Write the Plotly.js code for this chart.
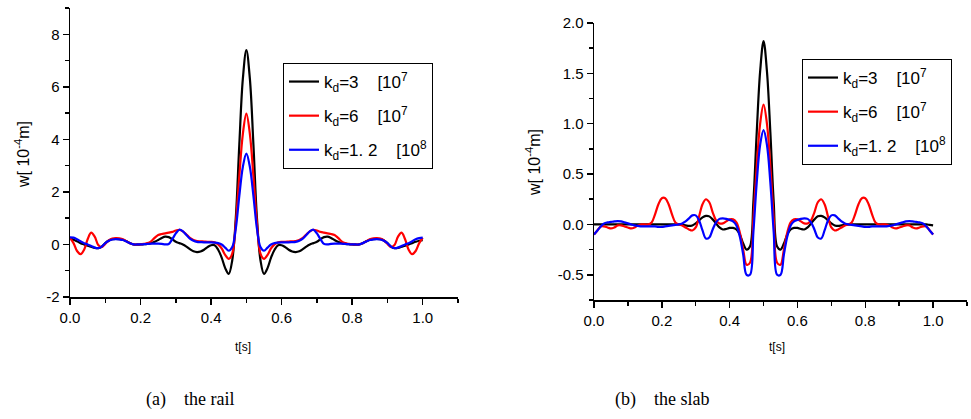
<!DOCTYPE html>
<html>
<head>
<meta charset="utf-8">
<script src="https://cdn.plot.ly/plotly-3.0.1.min.js"></script>
<style>html,body{margin:0;padding:0;background:#fff;}#chart{width:971px;height:419px;}</style>
</head>
<body>
<div id="chart"></div>
<script>
// time grid [s]
const t = [0.00,0.01,0.02,0.03,0.04,0.05,0.06,0.07,0.08,0.09,
  0.10,0.11,0.12,0.13,0.14,0.15,0.16,0.17,0.18,0.19,
  0.20,0.21,0.22,0.23,0.24,0.25,0.26,0.27,0.28,0.29,
  0.30,0.31,0.32,0.33,0.34,0.35,0.36,0.37,0.38,0.39,
  0.40,0.41,0.42,0.43,0.44,0.45,0.46,0.47,0.48,0.49,
  0.50,0.51,0.52,0.53,0.54,0.55,0.56,0.57,0.58,0.59,
  0.60,0.61,0.62,0.63,0.64,0.65,0.66,0.67,0.68,0.69,
  0.70,0.71,0.72,0.73,0.74,0.75,0.76,0.77,0.78,0.79,
  0.80,0.81,0.82,0.83,0.84,0.85,0.86,0.87,0.88,0.89,
  0.90,0.91,0.92,0.93,0.94,0.95,0.96,0.97,0.98,0.99,1.00];

// (a) the rail, w [1e-4 m]
const railK3e7 = [0.22,0.18,0.12,0.05,0.0,-0.05,-0.09,-0.13,-0.14,-0.08,
  0.05,0.15,0.2,0.21,0.2,0.18,0.12,0.05,0.0,-0.01,
  0.0,0.01,0.02,0.05,0.1,0.17,0.25,0.3,0.28,0.2,
  0.1,0.05,0.0,-0.08,-0.18,-0.26,-0.29,-0.27,-0.2,-0.1,
  -0.03,-0.03,-0.2,-0.5,-0.9,-1.12,-0.6,1.0,3.8,6.3,
  7.4,
  6.3,3.8,1.0,-0.6,-1.12,-0.9,-0.5,-0.2,-0.03,
  -0.03,-0.1,-0.2,-0.27,-0.29,-0.26,-0.18,-0.08,0.0,0.05,
  0.1,0.2,0.28,0.3,0.25,0.17,0.1,0.05,0.02,0.01,
  0.0,-0.01,0.0,0.05,0.12,0.18,0.2,0.21,0.2,0.15,
  0.05,-0.08,-0.14,-0.13,-0.09,-0.05,0.0,0.05,0.1,0.14,
  0.16];
const railK6e7 = [0.25,0.05,-0.25,-0.37,-0.2,0.2,0.45,0.3,-0.02,-0.1,
  0.02,0.15,0.22,0.24,0.23,0.2,0.12,0.05,0.0,0.0,
  0.0,0.02,0.05,0.12,0.25,0.36,0.4,0.42,0.45,0.48,
  0.53,0.56,0.5,0.38,0.25,0.17,0.13,0.12,0.11,0.1,
  0.1,0.08,0.0,-0.15,-0.4,-0.55,-0.35,0.8,2.6,4.2,
  4.98,
  4.2,2.6,0.8,-0.35,-0.55,-0.4,-0.15,0.0,0.08,
  0.1,0.1,0.11,0.12,0.13,0.17,0.25,0.38,0.5,0.56,
  0.53,0.48,0.45,0.42,0.4,0.36,0.25,0.12,0.05,0.02,
  0.0,0.0,0.0,0.05,0.12,0.2,0.23,0.24,0.22,0.15,
  0.02,-0.1,-0.02,0.3,0.45,0.2,-0.2,-0.37,-0.25,0.05,
  0.25];
const railK12e8 = [0.27,0.26,0.2,0.12,0.05,0.0,-0.06,-0.12,-0.14,-0.08,
  0.05,0.14,0.19,0.2,0.19,0.17,0.11,0.05,0.0,0.0,
  0.0,0.01,0.02,0.03,0.03,0.03,0.02,0.0,0.02,0.2,
  0.42,0.56,0.5,0.36,0.22,0.14,0.1,0.09,0.08,0.08,
  0.08,0.07,0.05,0.0,-0.12,-0.24,-0.1,0.6,1.85,2.95,
  3.46,
  2.95,1.85,0.6,-0.1,-0.24,-0.12,0.0,0.05,0.07,
  0.08,0.08,0.08,0.09,0.1,0.14,0.22,0.36,0.5,0.56,
  0.42,0.2,0.02,0.0,0.02,0.03,0.03,0.03,0.02,0.01,
  0.0,0.0,0.0,0.05,0.11,0.17,0.19,0.2,0.19,0.14,
  0.05,-0.08,-0.14,-0.12,-0.06,0.0,0.05,0.12,0.2,0.24,
  0.26];

// (b) the slab, w [1e-4 m]
const slabK3e7 = [0.0,0.0,0.0,0.0,0.0,0.0,0.0,0.0,0.0,0.0,
  0.0,0.0,0.0,0.0,0.0,0.0,0.0,0.0,0.0,0.0,
  0.0,0.0,0.0,0.0,0.0,0.0,-0.005,-0.01,-0.015,-0.01,
  0.01,0.04,0.07,0.085,0.08,0.05,0.01,-0.03,-0.05,-0.045,
  -0.035,-0.035,-0.05,-0.1,-0.19,-0.25,-0.22,0.22,0.92,1.52,
  1.82,
  1.52,0.92,0.22,-0.22,-0.25,-0.19,-0.1,-0.05,-0.035,
  -0.035,-0.045,-0.05,-0.03,0.01,0.05,0.08,0.085,0.07,0.04,
  0.01,-0.01,-0.015,-0.01,-0.005,0.0,0.0,0.0,0.0,0.0,
  0.0,0.0,0.0,0.0,0.0,0.0,0.0,0.0,0.0,0.0,
  0.0,0.0,0.0,0.0,0.0,0.0,0.0,0.0,0.0,-0.005,
  -0.01];
const slabK6e7 = [-0.1,-0.06,-0.02,-0.02,-0.03,-0.04,-0.03,-0.01,-0.01,-0.02,
  -0.03,-0.04,-0.03,-0.01,0.0,0.0,0.0,0.02,0.1,0.2,
  0.26,0.26,0.2,0.1,0.02,0.0,-0.01,-0.03,-0.05,-0.06,
  -0.03,0.08,0.2,0.25,0.22,0.12,0.04,0.01,0.01,0.03,
  0.05,0.05,0.02,-0.08,-0.25,-0.4,-0.38,0.05,0.58,1.0,
  1.19,
  1.0,0.58,0.05,-0.38,-0.4,-0.25,-0.08,0.02,0.05,
  0.05,0.03,0.01,0.01,0.04,0.12,0.22,0.25,0.2,0.08,
  -0.03,-0.06,-0.05,-0.03,-0.01,0.0,0.02,0.1,0.2,0.26,
  0.26,0.2,0.1,0.02,0.0,0.0,0.0,-0.01,-0.03,-0.04,
  -0.03,-0.02,-0.01,-0.01,-0.03,-0.04,-0.03,-0.02,-0.02,-0.06,
  -0.1];
const slabK12e8 = [-0.1,-0.06,-0.02,0.01,0.02,0.025,0.03,0.033,0.03,0.02,
  0.01,0.0,-0.01,-0.015,-0.02,-0.02,-0.02,-0.02,-0.02,-0.025,
  -0.025,-0.02,-0.015,-0.01,-0.005,0.0,0.01,0.03,0.06,0.09,
  0.09,0.04,-0.06,-0.14,-0.13,-0.05,0.02,0.055,0.06,0.055,
  0.045,0.03,-0.01,-0.12,-0.3,-0.5,-0.5,-0.08,0.42,0.79,
  0.935,
  0.79,0.42,-0.08,-0.5,-0.5,-0.3,-0.12,-0.01,0.03,
  0.045,0.055,0.06,0.055,0.02,-0.05,-0.13,-0.14,-0.06,0.04,
  0.09,0.09,0.06,0.03,0.01,0.0,-0.005,-0.01,-0.015,-0.02,
  -0.025,-0.025,-0.02,-0.02,-0.02,-0.02,-0.02,-0.015,-0.01,0.0,
  0.01,0.02,0.03,0.033,0.03,0.025,0.02,0.01,-0.02,-0.06,
  -0.1];

const seriesNames = [
  'k<sub>d</sub>=3\u00a0\u00a0\u00a0\u00a0[10<sup>7</sup>',
  'k<sub>d</sub>=6\u00a0\u00a0\u00a0\u00a0[10<sup>7</sup>',
  'k<sub>d</sub>=1.\u00a02\u00a0\u00a0\u00a0\u00a0[10<sup>8</sup>'
];
const seriesColors = ['#000000', '#ff0000', '#0000ff'];

const xTickVals = [0, 0.2, 0.4, 0.6, 0.8, 1.0];
const xTickText = ['0.0', '0.2', '0.4', '0.6', '0.8', '1.0'];
const railYTickVals = [-2, 0, 2, 4, 6, 8];
const railYTickText = ['-2', '0', '2', '4', '6', '8'];
const slabYTickVals = [-0.5, 0, 0.5, 1.0, 1.5, 2.0];
const slabYTickText = ['-0.5', '0.0', '0.5', '1.0', '1.5', '2.0'];

const W = 971, H = 419;
const sans = 'Liberation Sans, Arial, sans-serif';
const serif = 'Liberation Serif, Times New Roman, serif';

const railSeries = [railK3e7, railK6e7, railK12e8];
const slabSeries = [slabK3e7, slabK6e7, slabK12e8];

const traces = [];
railSeries.forEach((ys, i) => {
  traces.push({x: t, y: ys, xaxis: 'x', yaxis: 'y', type: 'scatter', mode: 'lines',
    line: {color: seriesColors[i], width: 2.2, shape: 'spline', smoothing: 1},
    name: seriesNames[i], legend: 'legend', legendgroup: 'a' + i});
});
slabSeries.forEach((ys, i) => {
  traces.push({x: t, y: ys, xaxis: 'x2', yaxis: 'y2', type: 'scatter', mode: 'lines',
    line: {color: seriesColors[i], width: 2.2, shape: 'spline', smoothing: 1},
    name: seriesNames[i], legend: 'legend2', legendgroup: 'b' + i});
});

function xAxis(d0, d1, anchor) {
  return {domain: [d0 / W, d1 / W], range: [0, 1.1], anchor: anchor,
    showline: true, linecolor: '#000', linewidth: 1.5, showgrid: false, zeroline: false,
    ticks: 'outside', ticklen: 6, tickwidth: 1.5, tickcolor: '#000',
    tickmode: 'array', tickvals: xTickVals, ticktext: xTickText,
    minor: {tickmode: 'linear', tick0: 0, dtick: 0.1, ticks: 'outside', ticklen: 4, tickwidth: 1.5, tickcolor: '#000'},
    tickfont: {family: sans, size: 15, color: '#000'}, fixedrange: true};
}
function yAxis(top, bottom, range, vals, text, minorD, anchor) {
  return {domain: [1 - bottom / H, 1 - top / H], range: range, anchor: anchor,
    showline: true, linecolor: '#000', linewidth: 1.5, showgrid: false, zeroline: false,
    ticks: 'outside', ticklen: 6, tickwidth: 1.5, tickcolor: '#000',
    tickmode: 'array', tickvals: vals, ticktext: text,
    minor: {tickmode: 'linear', tick0: 0, dtick: minorD, ticks: 'outside', ticklen: 4, tickwidth: 1.5, tickcolor: '#000'},
    tickfont: {family: sans, size: 15, color: '#000'}, fixedrange: true};
}

function legendBox(x, y) {
  return {x: x / W, y: 1 - y / H, xanchor: 'left', yanchor: 'top', xref: 'paper', yref: 'paper',
    bgcolor: '#fff', bordercolor: '#000', borderwidth: 1, tracegroupgap: 9,
    font: {family: sans, size: 17, color: '#000'}};
}

function ann(text, x, y, opts) {
  return Object.assign({text: text, x: x / W, y: 1 - y / H, xref: 'paper', yref: 'paper',
    showarrow: false, xanchor: 'center', yanchor: 'middle'}, opts || {});
}

const layout = {
  width: W, height: H, margin: {l: 0, r: 0, t: 0, b: 0},
  paper_bgcolor: '#fff', plot_bgcolor: '#fff', showlegend: true,
  xaxis: xAxis(70, 458, 'y'),
  yaxis: yAxis(8, 297, [-2, 9], railYTickVals, railYTickText, 1, 'x'),
  xaxis2: xAxis(594, 967, 'y2'),
  yaxis2: yAxis(22.9, 300, [-0.75, 2.0], slabYTickVals, slabYTickText, 0.25, 'x2'),
  legend: legendBox(283, 63),
  legend2: legendBox(802, 59),
  annotations: [
    ann('w[ 10<sup>-4</sup>m]', 22, 155, {textangle: -90, font: {family: sans, size: 16, color: '#000'}}),
    ann('w[ 10<sup>-4</sup>m]', 533, 163, {textangle: -90, font: {family: sans, size: 16, color: '#000'}}),
    ann('t[s]', 243, 347, {font: {family: sans, size: 12, color: '#000'}}),
    ann('t[s]', 777, 347, {font: {family: sans, size: 12, color: '#000'}}),
    ann('(a)\u00a0\u00a0\u00a0\u00a0the rail', 190, 399, {font: {family: serif, size: 18, color: '#000'}}),
    ann('(b)\u00a0\u00a0\u00a0\u00a0the slab', 662, 399, {font: {family: serif, size: 18, color: '#000'}})
  ]
};

Plotly.newPlot('chart', traces, layout, {staticPlot: true, displayModeBar: false});
</script>
</body>
</html>
